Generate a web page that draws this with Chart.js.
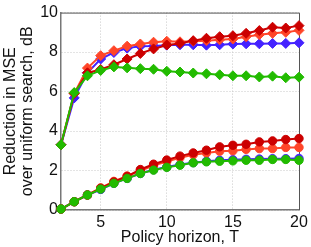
<!DOCTYPE html>
<html>
<head>
<meta charset="utf-8">
<script src="https://cdn.jsdelivr.net/npm/chart.js@4/dist/chart.umd.min.js"></script>
<style>
  html, body { margin: 0; padding: 0; background: #fff; }
  #wrap { width: 311px; height: 247px; }
</style>
</head>
<body>
<div id="wrap"><canvas id="chart" width="311" height="247"></canvas></div>
<script>
// policy horizon T
const horizon = [2, 3, 4, 5, 6, 7, 8, 9, 10, 11, 12, 13, 14, 15, 16, 17, 18, 19, 20];

// diamond curves (upper group)
const greenDiamond = [3.3, 5.95, 6.8, 7.07, 7.25, 7.2, 7.16, 7.13, 7.03, 6.99, 6.94, 6.9, 6.85, 6.8, 6.8, 6.74, 6.78, 6.7, 6.73];
const darkRedDiamond = [3.3, 5.9, 6.95, 7.12, 7.36, 7.65, 7.93, 8.16, 8.36, 8.44, 8.58, 8.7, 8.78, 8.83, 8.95, 9.09, 9.26, 9.22, 9.34];
const orangeDiamond = [3.3, 5.9, 7.19, 7.82, 8.07, 8.3, 8.41, 8.5, 8.55, 8.52, 8.55, 8.58, 8.62, 8.66, 8.78, 8.88, 8.95, 9.0, 9.1];
const blueDiamond = [3.3, 5.68, 6.95, 7.65, 7.98, 8.2, 8.3, 8.31, 8.35, 8.37, 8.37, 8.35, 8.37, 8.41, 8.42, 8.42, 8.44, 8.44, 8.47];

// circle curves (lower group)
const greenCircle = [0.05, 0.42, 0.76, 1.06, 1.35, 1.6, 1.85, 2.02, 2.16, 2.27, 2.39, 2.44, 2.47, 2.49, 2.52, 2.52, 2.56, 2.56, 2.52];
const darkRedCircle = [0.05, 0.42, 0.76, 1.1, 1.42, 1.7, 2.05, 2.32, 2.53, 2.73, 2.89, 3.03, 3.2, 3.28, 3.33, 3.45, 3.5, 3.57, 3.62];
const orangeCircle = [0.05, 0.42, 0.76, 1.12, 1.45, 1.72, 1.98, 2.25, 2.45, 2.65, 2.8, 2.89, 2.98, 3.0, 3.07, 3.11, 3.11, 3.17, 3.17];
const blueCircle = [0.05, 0.42, 0.76, 1.04, 1.35, 1.6, 1.85, 2.04, 2.18, 2.3, 2.4, 2.47, 2.52, 2.55, 2.57, 2.58, 2.6, 2.6, 2.61];

const xTicks = [5, 10, 15, 20];
const yTicks = [0, 2, 4, 6, 8, 10];

const GREEN = '#22bb00', DARKRED = '#cc0000', ORANGE = '#ff4528', BLUE = '#4422ff';

function series(values, color, marker) {
  return {
    data: horizon.map((t, i) => ({ x: t, y: values[i] })),
    borderColor: color,
    backgroundColor: color,
    pointBackgroundColor: color,
    pointBorderColor: color,
    borderWidth: 2,
    pointStyle: marker,
    pointRadius: marker === 'rectRot' ? 5 : 4.2,
    pointBorderWidth: 1,
    clip: false
  };
}

// first dataset ends up on top
const datasets = [
  series(greenDiamond, GREEN, 'rectRot'),
  series(greenCircle, GREEN, 'circle'),
  series(darkRedDiamond, DARKRED, 'rectRot'),
  series(darkRedCircle, DARKRED, 'circle'),
  series(orangeDiamond, ORANGE, 'rectRot'),
  series(orangeCircle, ORANGE, 'circle'),
  series(blueDiamond, BLUE, 'rectRot'),
  series(blueCircle, BLUE, 'circle')
];

// top and right side of the axes box
const boxPlugin = {
  id: 'box',
  beforeDatasetsDraw(chart) {
    const { ctx, chartArea: a } = chart;
    ctx.save();
    ctx.strokeStyle = '#555';
    ctx.lineWidth = 1;
    ctx.beginPath();
    ctx.moveTo(a.left, a.top + 0.5);
    ctx.lineTo(a.right + 0.5, a.top + 0.5);
    ctx.lineTo(a.right + 0.5, a.bottom);
    ctx.stroke();
    ctx.restore();
  }
};

const font = { family: '"Liberation Sans", Arial, sans-serif', size: 16 };

new Chart(document.getElementById('chart'), {
  type: 'line',
  data: { datasets },
  plugins: [boxPlugin],
  options: {
    responsive: false,
    animation: false,
    layout: { padding: { top: 12, right: 12, left: 0, bottom: 0 } },
    plugins: { legend: { display: false }, tooltip: { enabled: false } },
    scales: {
      x: {
        type: 'linear',
        min: 2,
        max: 20,
        afterBuildTicks: s => { s.ticks = xTicks.map(v => ({ value: v })); },
        afterFit: s => { s.height = 37; },
        grid: { color: '#c8c8c8', drawTicks: false, tickLength: 0 },
        border: { color: '#777', width: 1.5, dash: [1, 2] },
        ticks: { color: '#111', font, padding: 3, maxRotation: 0 },
        title: {
          display: true, text: 'Policy horizon, T', color: '#111',
          font: { ...font, lineHeight: 1.2 }, padding: { top: 0, bottom: 0 }
        }
      },
      y: {
        min: 0,
        max: 10,
        afterBuildTicks: s => { s.ticks = yTicks.map(v => ({ value: v })); },
        afterFit: s => { s.width = 61; },
        grid: { color: '#c8c8c8', drawTicks: false, tickLength: 0 },
        border: { color: '#777', width: 1.5, dash: [1, 2] },
        ticks: { color: '#111', font, padding: 3 },
        title: {
          display: true, text: ['Reduction in MSE', 'over uniform search, dB'], color: '#111',
          font: { ...font, lineHeight: 1.06 }, padding: { top: 2.5, bottom: 0 }
        }
      }
    }
  }
});
</script>
</body>
</html>
